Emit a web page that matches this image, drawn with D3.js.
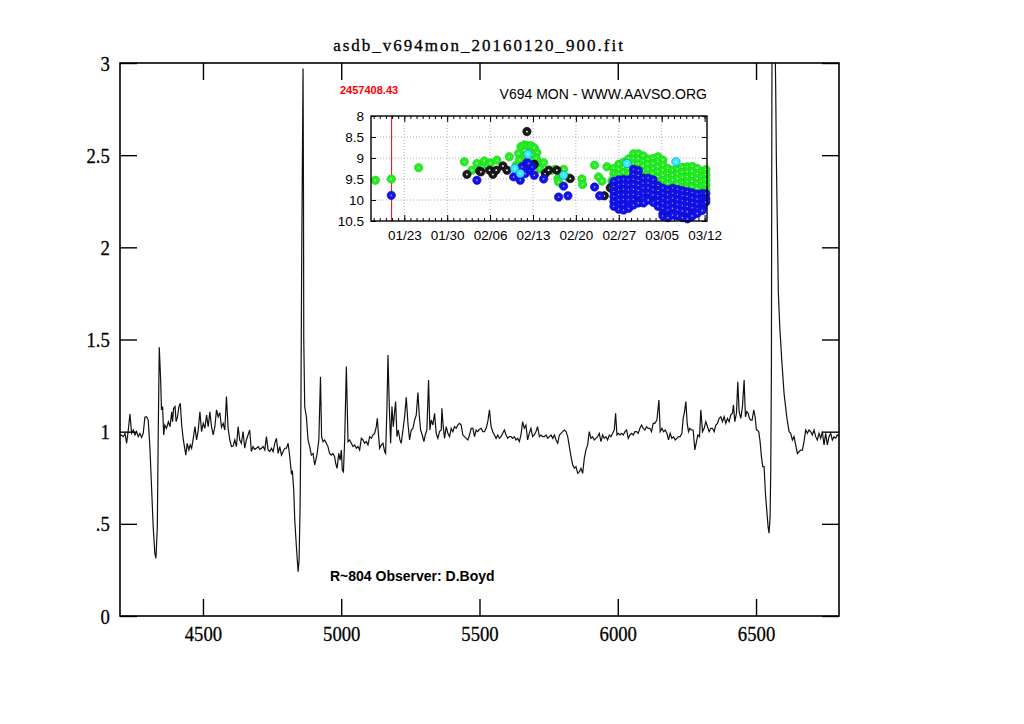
<!DOCTYPE html>
<html>
<head>
<meta charset="utf-8">
<script src="https://cdn.jsdelivr.net/npm/d3@7/dist/d3.min.js"></script>
<style>
body { margin: 0; background: #fff; }
</style>
</head>
<body>
<div class="chart"></div>
<script>
// spectrum: [wavelength (A), relative flux]
const spectrum = [
[4200,0.98],[4203.6,0.982],[4212,0.973],[4218,0.991],[4224,0.937],[4230,1.009],[4236,1.096],[4242,0.991],[4248,1.009],[4254,0.982],
[4260,1.000],[4266,0.973],[4272,0.991],[4278,0.969],[4284,0.991],[4290,1.078],[4296,1.081],[4302,1.063],[4308,0.919],[4314,0.702],
[4320,0.485],[4326,0.340],[4330,0.313],[4335,0.485],[4338,0.955],[4342,1.458],[4347,1.280],[4350,1.118],[4354,1.136],[4358,0.982],
[4362,1.036],[4368,1.018],[4375,1.054],[4381,1.027],[4387,1.108],[4390,1.054],[4394,1.127],[4399,1.136],[4403,1.054],[4408,1.081],
[4413,1.136],[4418,1.154],[4423,1.036],[4429,0.955],[4435,0.901],[4438,0.873],[4443,0.937],[4449,0.901],[4454,0.928],[4459,0.910],
[4465,0.964],[4471,1.027],[4477,0.955],[4483,1.009],[4489,1.108],[4495,1.000],[4501,1.045],[4507,1.018],[4513,1.090],[4519,1.027],
[4525,1.108],[4531,1.027],[4537,0.982],[4543,1.027],[4549,1.118],[4555,1.081],[4561,1.103],[4567,1.024],[4573,1.045],[4579,1.009],
[4585,1.190],[4591,1.018],[4597,0.955],[4603,0.919],[4609,0.922],[4615,0.955],[4621,0.919],[4627,1.027],[4633,0.955],[4639,0.937],
[4645,1.000],[4651,0.910],[4657,0.955],[4663,0.982],[4669,1.009],[4675,0.892],[4681,0.919],[4687,0.904],[4693.5,0.910],[4699.5,0.919],
[4705.5,0.904],[4711.6,0.910],[4717.6,0.919],[4723.6,0.901],[4729.6,0.973],[4735.6,0.901],[4741.7,0.892],[4747.7,0.910],[4753.7,0.892],[4759.7,0.937],
[4765.7,0.964],[4771.8,0.882],[4777.8,0.919],[4783.8,0.873],[4789.8,0.892],[4795.8,0.910],[4801.9,0.910],[4807.9,0.937],[4813.9,0.864],[4819.9,0.774],
[4823.5,0.783],[4828.3,0.684],[4831.9,0.521],[4837.9,0.376],[4844,0.240],[4847.6,0.304],[4851.2,0.593],[4853.6,0.955],[4857,1.93],[4861.9,2.97],
[4863.5,2.3],[4864.5,1.5],[4868,1.135],[4874,1.081],[4880,0.955],[4886,0.919],[4892,0.873],[4898,0.882],[4904,0.819],[4908,0.846],
[4913,0.882],[4919,0.955],[4925,1.298],[4929,0.973],[4934,0.946],[4940,0.955],[4946,0.937],[4952,0.919],[4958,0.882],[4964,0.873],
[4970,0.882],[4976,0.864],[4980,0.828],[4985,0.801],[4991,0.882],[4996,0.846],[5000.5,0.901],[5004,0.792],[5008,0.783],[5012.5,0.955],
[5018.5,1.353],[5024.5,0.946],[5030.5,0.955],[5036.6,0.937],[5042.6,0.919],[5048.6,0.928],[5054.6,0.910],[5060.6,0.919],[5066.6,0.901],[5072.7,0.964],
[5078.7,0.955],[5084.7,0.937],[5090.7,0.946],[5096.7,0.928],[5102.8,0.973],[5108.8,0.964],[5114.8,0.982],[5120.8,0.991],[5126.8,1.027],[5130.5,1.072],
[5135.3,0.973],[5138.9,0.910],[5144.9,0.928],[5150.9,0.937],[5157,0.892],[5160.5,0.882],[5165.4,1.136],[5169,1.416],[5173.8,1.136],[5178.6,0.937],
[5183.4,1.136],[5188.2,1.027],[5193,1.108],[5196.7,1.163],[5201.5,0.973],[5206.3,1.009],[5212.3,0.955],[5217.1,0.937],[5223.1,1.009],[5229.2,1.081],
[5235.2,1.186],[5241.2,1.045],[5247.2,0.955],[5253.2,1.009],[5259.2,1.018],[5265.3,1.063],[5271.3,1.090],[5277.3,1.212],[5282.1,1.090],[5287,1.009],
[5293,0.982],[5299,0.946],[5303.8,0.982],[5309.8,1.009],[5315.8,1.280],[5320.6,1.009],[5325.5,1.063],[5331.5,1.036],[5337.5,1.099],[5343.5,0.991],
[5349.5,0.964],[5355.5,1.000],[5361.6,1.009],[5364,1.127],[5368.8,1.027],[5373.6,0.964],[5379.6,1.027],[5385.6,0.991],[5391.7,0.973],[5397.7,1.018],
[5403.7,1.000],[5409.7,1.027],[5415.7,1.018],[5421.7,1.036],[5427.8,1.045],[5433.8,1.036],[5439.8,0.982],[5445.8,0.973],[5451.8,0.964],[5457.9,0.955],
[5463.9,0.982],[5469.9,1.018],[5475.9,1.018],[5481.9,0.973],[5488,1.009],[5494,1.000],[5500,1.013],[5506,1.018],[5512,1.000],[5518,1.000],
[5524,1.018],[5530,1.054],[5536,1.118],[5542,1.027],[5548,1.000],[5554,0.982],[5560,0.964],[5566,0.982],[5572,0.964],[5578,0.973],
[5584,0.991],[5590,1.009],[5596,0.982],[5602,0.964],[5608,0.973],[5614,0.973],[5620,0.964],[5626,0.973],[5632,0.955],[5638,0.964],
[5644,0.946],[5650,0.982],[5656,1.054],[5662,1.018],[5668,1.036],[5674,0.955],[5680,0.991],[5686,1.018],[5692,0.973],[5698,0.982],
[5704,1.000],[5710,1.027],[5716.6,0.973],[5722.7,0.982],[5728.7,0.973],[5734.7,0.973],[5740.7,0.982],[5746.7,0.964],[5752.8,0.973],[5758.8,0.982],
[5764.8,0.964],[5770.8,0.982],[5776.8,0.955],[5782.9,0.937],[5788.9,0.982],[5794.9,0.991],[5800.9,1.000],[5806.9,1.009],[5813,1.000],[5819,0.973],
[5825,0.919],[5831,0.864],[5837,0.819],[5843,0.801],[5849,0.810],[5855,0.774],[5861,0.783],[5867,0.801],[5873,0.774],[5879,0.855],
[5885,0.901],[5891,0.928],[5897,1.000],[5903,0.964],[5909,0.973],[5915,0.955],[5921,0.964],[5927,0.973],[5933,0.991],[5939.3,0.946],
[5945.3,0.982],[5951.3,0.964],[5957.3,0.973],[5963.3,0.955],[5969.4,0.982],[5975.4,0.973],[5981.4,0.991],[5987.4,1.009],[5992.2,1.100],[5997.1,0.982],
[6001.9,0.991],[6007.9,0.982],[6013.9,0.991],[6019.9,0.982],[6026,1.000],[6032,1.009],[6038,0.964],[6044,0.982],[6050,0.991],[6056,0.982],
[6062,1.000],[6068,1.000],[6074,0.991],[6080,1.018],[6086,1.036],[6092,1.018],[6098,1.009],[6104,1.027],[6110,1.018],[6116,1.018],
[6122,1.000],[6128,1.045],[6134,1.045],[6141.5,1.063],[6148.7,1.172],[6153.5,1.000],[6159.6,1.018],[6165.6,1.000],[6171.6,1.009],[6177.6,0.991],
[6183.6,0.955],[6189.6,0.991],[6195.7,0.964],[6201.7,0.973],[6207.7,0.955],[6213.7,0.964],[6219.7,0.973],[6225.8,0.973],[6231.8,0.991],[6236.6,1.072],
[6241.4,1.109],[6246.2,1.163],[6251,1.045],[6255.8,1.000],[6260.7,1.018],[6266.7,1.009],[6272.7,1.009],[6278.7,0.901],[6284.7,0.946],[6289.5,0.982],
[6295.6,0.973],[6300.4,1.118],[6306.4,1.000],[6312.4,1.018],[6318.4,1.054],[6324.5,1.027],[6330.5,1.000],[6336.5,1.018],[6342.5,1.018],[6348.5,1.000],
[6354.6,1.036],[6360.6,1.045],[6366.6,1.072],[6372.6,1.081],[6378.6,1.054],[6384.6,1.081],[6390.7,1.045],[6396.7,1.072],[6402.7,1.054],[6408.7,1.091],
[6414.7,1.100],[6418.3,1.145],[6423.2,1.054],[6429.2,1.100],[6434,1.271],[6438.8,1.109],[6444.8,1.072],[6450.9,1.136],[6456.9,1.280],[6461.7,1.081],
[6466.5,1.109],[6471.3,1.100],[6476.1,1.072],[6481,1.063],[6485.8,1.063],[6491.8,1.118],[6496.6,1.081],[6501.4,1.009],[6505,1.009],[6509.8,1.000],
[6514.7,0.946],[6519.5,0.864],[6524.3,0.810],[6529.1,0.810],[6533.9,0.666],[6538.7,0.575],[6543.5,0.485],[6547.1,0.449],[6550.8,0.539],[6553.2,0.792],
[6555.6,1.335],[6557,2.6],[6558.5,3.6],[6566,3.8],[6569,3.1],[6571.3,2.836],[6573.5,2.474],[6577.1,2.112],[6580.7,1.752],[6585.8,1.569],
[6593,1.389],[6601.3,1.208],[6611,1.081],[6619.4,1.000],[6625.4,0.991],[6631.4,0.955],[6637.4,0.973],[6643.4,0.928],[6649.5,0.882],[6655.5,0.891],
[6661.5,0.900],[6667.5,0.900],[6673.5,0.946],[6679.6,1.009],[6685.6,0.991],[6691.6,1.009],[6697.6,1.000],[6703.6,0.982],[6709.7,1.009],[6715.7,0.973],
[6721.7,0.955],[6727.7,0.991],[6733.7,0.964],[6739.7,1.000],[6745.8,0.928],[6751.8,0.991],[6757.8,0.928],[6763.8,0.973],[6769.8,0.991],[6775.9,0.955],
[6781.9,0.973],[6787.9,0.964],[6793.9,0.982],[6800,0.975]
];

const xTicks = [4500, 5000, 5500, 6000, 6500];
const yTicks = [0, 0.5, 1, 1.5, 2, 2.5, 3];
const yTickLabels = ['0', '.5', '1', '1.5', '2', '2.5', '3'];

// AAVSO light curve inset, x = day of 2016 (Jan 1 = 1), y = magnitude
const jdMarker = 2457408.43;
const jdDay0 = 2457387.5;
const insetTicks = [23, 30, 37, 44, 51, 58, 65, 72];
const insetTickLabels = ['01/23', '01/30', '02/06', '02/13', '02/20', '02/27', '03/05', '03/12'];
const magTicks = [8, 8.5, 9, 9.5, 10, 10.5];
const magTickLabels = ['8', '8.5', '9', '9.5', '10', '10.5'];

const greenPts = [
[18.27,9.53],[20.88,9.50],[25.34,9.23],[32.79,9.09],[34.04,9.29],[34.85,9.13],[35.67,9.21],[36.05,9.07],[37.03,9.12],[38.12,9.05],
[40.13,8.97],[41.27,9.17],[41.65,8.89],[42.03,8.73],[42.58,8.69],[43.12,8.71],[43.66,8.71],[44.21,8.76],[44.64,8.87],[41.81,9.05],
[42.74,8.93],[43.83,8.93],[44.53,9.01],[44.91,9.11],[45.08,9.25],[45.73,9.11],[47.09,9.29],[47.63,9.27],[48.07,9.49],[48.18,9.57],
[48.99,9.27],[49.81,9.47],[51.98,9.50],[52.09,9.63],[54.05,9.17],[54.70,9.45],[55.25,9.55],[56.06,9.21],[56.88,9.55],
[57.2,9.25],[57.2,9.37],[57.2,9.49],
[58.0,9.15],[58.0,9.27],[58.0,9.39],[58.0,9.50],
[58.8,9.10],[58.8,9.22],[58.8,9.34],[58.8,9.46],
[59.6,9.02],[59.6,9.14],[59.6,9.26],[59.6,9.38],[59.6,9.50],
[60.4,8.90],[60.4,9.02],[60.4,9.14],[60.4,9.26],
[61.2,8.90],[61.2,9.02],[61.2,9.14],[61.2,9.26],
[62.0,8.95],[62.0,9.07],[62.0,9.19],[62.0,9.31],[62.0,9.43],
[62.8,9.03],[62.8,9.15],[62.8,9.27],[62.8,9.39],[62.8,9.50],
[63.6,9.01],[63.6,9.13],[63.6,9.25],[63.6,9.37],[63.6,9.49],
[64.4,8.97],[64.4,9.09],[64.4,9.21],[64.4,9.33],[64.4,9.45],[64.4,9.57],
[65.2,9.05],[65.2,9.17],[65.2,9.29],[65.2,9.41],[65.2,9.53],[65.2,9.65],[65.2,9.76],
[66.0,9.25],[66.0,9.37],[66.0,9.49],[66.0,9.61],[66.0,9.73],[66.0,9.85],
[66.8,9.29],[66.8,9.41],[66.8,9.53],[66.8,9.65],[66.8,9.77],
[67.6,9.26],[67.6,9.38],[67.6,9.50],[67.6,9.62],[67.6,9.74],[67.6,9.84],
[68.4,9.22],[68.4,9.34],[68.4,9.46],[68.4,9.58],[68.4,9.70],[68.4,9.82],
[69.2,9.21],[69.2,9.33],[69.2,9.45],[69.2,9.57],[69.2,9.69],[69.2,9.82],
[70.0,9.20],[70.0,9.32],[70.0,9.44],[70.0,9.56],[70.0,9.68],[70.0,9.80],
[70.8,9.25],[70.8,9.37],[70.8,9.49],[70.8,9.61],[70.8,9.73],[70.8,9.85],
[71.6,9.32],[71.6,9.44],[71.6,9.56],[71.6,9.68],[71.6,9.80],
[72.2,9.28],[72.2,9.40],[72.2,9.52],[72.2,9.64],[72.2,9.76]
];

const blackPts = [
[33.22,9.39],[35.29,9.31],[35.51,9.33],[36.92,9.29],[37.46,9.39],[38.0,9.29],[39.1,9.19],[39.75,9.29],[43.01,8.37],[44.21,9.15],
[46.0,9.37],[46.55,9.29],[47.9,9.29],[50.08,9.49],[55.63,9.90],[56.61,9.71],[70.74,10.21]
];

const bluePts = [
[20.88,9.89],[34.85,9.53],[40.84,9.45],[41.92,9.53],[42.2,9.21],[43.01,9.11],[43.45,9.29],[44.21,9.41],[43.83,9.21],[42.74,9.37],
[43.28,9.13],[45.73,9.50],[48.18,9.93],[48.99,9.67],[49.70,9.90],[54.05,9.69],[54.87,9.90],
[57.2,9.56],[57.2,9.68],[57.2,9.80],[57.2,9.92],[57.2,10.04],[57.2,10.15],
[58.0,9.52],[58.0,9.64],[58.0,9.76],[58.0,9.88],[58.0,10.00],[58.0,10.12],[58.0,10.22],
[58.8,9.51],[58.8,9.63],[58.8,9.75],[58.8,9.87],[58.8,9.99],[58.8,10.11],[58.8,10.24],
[59.6,9.52],[59.6,9.64],[59.6,9.76],[59.6,9.88],[59.6,10.00],[59.6,10.12],[59.6,10.20],
[60.4,9.27],[60.4,9.39],[60.4,9.51],[60.4,9.63],[60.4,9.75],[60.4,9.87],[60.4,9.99],[60.4,10.12],
[61.2,9.30],[61.2,9.42],[61.2,9.54],[61.2,9.66],[61.2,9.78],[61.2,9.90],[61.2,10.02],[61.2,10.07],
[62.0,9.48],[62.0,9.60],[62.0,9.72],[62.0,9.84],[62.0,9.96],[62.05,10.07],
[62.8,9.48],[62.8,9.60],[62.8,9.72],[62.8,9.84],[62.8,9.96],[62.8,10.00],
[63.6,9.52],[63.6,9.64],[63.6,9.76],[63.6,9.88],[63.67,10.06],
[64.4,9.66],[64.4,9.78],[64.4,9.90],[64.4,10.02],[64.4,10.15],
[65.2,9.72],[65.2,9.84],[65.2,9.96],[65.2,10.08],[65.2,10.20],[65.2,10.32],[65.2,10.38],
[66.0,9.76],[66.0,9.88],[66.0,10.00],[66.0,10.12],[66.0,10.24],[66.0,10.36],[66.0,10.42],
[66.8,9.72],[66.8,9.84],[66.8,9.96],[66.8,10.08],[66.8,10.20],[66.8,10.36],
[67.6,9.75],[67.6,9.87],[67.6,9.99],[67.6,10.11],[67.6,10.23],[67.6,10.38],
[68.4,9.78],[68.4,9.90],[68.4,10.02],[68.4,10.14],[68.4,10.26],[68.4,10.42],
[69.2,9.80],[69.2,9.92],[69.2,10.04],[69.2,10.16],[69.2,10.28],[69.2,10.45],
[70.0,9.83],[70.0,9.95],[70.0,10.07],[70.0,10.19],[70.0,10.31],[70.0,10.38],
[70.8,9.86],[70.8,9.98],[70.8,10.10],[70.8,10.22],[70.8,10.32],
[71.6,9.85],[71.6,9.97],[71.6,10.09],[71.6,10.20],[71.6,10.25],
[72.2,9.85],[72.2,9.97],[72.2,10.05]
];

const cyanPts = [[41.0,9.25],[41.92,9.37],[43.17,8.91],[49.0,9.41],[59.32,9.13],[67.32,9.09]];

const margin = ({top: 63, right: 185, bottom: 108, left: 120});
const width = 1024 - margin.left - margin.right;
const height = 724 - margin.top - margin.bottom;

const root = d3.select('.chart').append('svg')
	.attr('width', 1024)
	.attr('height', 724);

const svg = root.append('g')
	.attr('transform', 'translate(' + margin.left + ',' + margin.top + ')');

const xScale = d3.scaleLinear()
	.domain([4200, 6800])
	.range([0, width]);

const yScale = d3.scaleLinear()
	.domain([0, 3])
	.range([height, 0]);

const serif = '"Liberation Serif", "Times New Roman", serif';
const sans = '"Liberation Sans", Arial, sans-serif';

svg.append('clipPath').attr('id', 'plotclip')
	.append('rect').attr('width', width).attr('height', height);

const line = d3.line()
	.x(d => xScale(d[0]))
	.y(d => yScale(d[1]));

svg.append('path')
	.datum(spectrum)
	.attr('clip-path', 'url(#plotclip)')
	.attr('fill', 'none')
	.attr('stroke', '#111')
	.attr('stroke-width', 1.2)
	.attr('d', line);

// gnuplot style axes: ticks pointing in, on all four sides
const xAxis = d3.axisBottom(xScale).tickValues(xTicks).tickSize(-17).tickPadding(9).tickFormat(d3.format('d'));
const xAxisTop = d3.axisTop(xScale).tickValues(xTicks).tickSize(-17).tickFormat('');
const yAxis = d3.axisLeft(yScale).tickValues(yTicks).tickSize(-17).tickPadding(12).tickFormat((d, i) => yTickLabels[i]);
const yAxisRight = d3.axisRight(yScale).tickValues(yTicks).tickSize(-17).tickFormat('');

svg.append('g').attr('class', 'axis x-axis').attr('transform', `translate(0, ${height})`).call(xAxis);
svg.append('g').attr('class', 'axis').call(xAxisTop);
svg.append('g').attr('class', 'axis y-axis').call(yAxis);
svg.append('g').attr('class', 'axis').attr('transform', `translate(${width}, 0)`).call(yAxisRight);

svg.selectAll('.axis .domain').remove();
svg.selectAll('.axis line').attr('stroke', '#000').attr('stroke-width', 1.4);
svg.selectAll('.axis text')
	.attr('font-family', serif)
	.attr('font-size', 22)
	.attr('fill', '#000')
	.attr('stroke', '#000')
	.attr('stroke-width', 0.3)
	.attr('transform', 'scale(0.85,1)');

svg.append('rect')
	.attr('width', width).attr('height', height)
	.attr('fill', 'none').attr('stroke', '#000').attr('stroke-width', 1.6);

root.append('text')
	.attr('x', 479).attr('y', 51)
	.attr('text-anchor', 'middle')
	.attr('font-family', serif)
	.attr('font-size', 17)
	.attr('letter-spacing', 2)
	.attr('stroke', '#000')
	.attr('stroke-width', 0.3)
	.text('asdb_v694mon_20160120_900.fit');

root.append('text')
	.attr('x', 330).attr('y', 581)
	.attr('font-family', sans)
	.attr('font-weight', 'bold')
	.attr('font-size', 14)
	.text('R~804 Observer: D.Boyd');

// ---- inset light curve ----
const inset = root.append('g').attr('class', 'inset');
const ix = d3.scaleLinear().domain([17.57, 72.39]).range([371, 707]);
const iy = d3.scaleLinear().domain([8, 10.5]).range([116, 221]);

inset.append('text')
	.attr('x', 340).attr('y', 94)
	.attr('font-family', sans).attr('font-weight', 'bold').attr('font-size', 11)
	.attr('fill', '#f00')
	.text(jdMarker.toFixed(2));

inset.append('text')
	.attr('x', 707).attr('y', 99)
	.attr('text-anchor', 'end')
	.attr('font-family', sans).attr('font-size', 14)
	.text('V694 MON - WWW.AAVSO.ORG');

// dotted grid
inset.selectAll('.vgrid').data(insetTicks.slice(0, -1)).enter().append('line')
	.attr('x1', d => ix(d)).attr('x2', d => ix(d))
	.attr('y1', iy(8)).attr('y2', iy(10.5))
	.attr('stroke', '#999').attr('stroke-width', 0.8).attr('stroke-dasharray', '1,2');
inset.selectAll('.hgrid').data(magTicks.slice(1, -1)).enter().append('line')
	.attr('x1', ix.range()[0]).attr('x2', ix.range()[1])
	.attr('y1', d => iy(d)).attr('y2', d => iy(d))
	.attr('stroke', '#999').attr('stroke-width', 0.8).attr('stroke-dasharray', '1,2');

const minorDays = d3.range(18, 73);
const ixAxis = d3.axisBottom(ix).tickValues(insetTicks).tickSize(-6).tickPadding(9).tickFormat((d, i) => insetTickLabels[i]);
const ixMinor = d3.axisBottom(ix).tickValues(minorDays).tickSize(-3).tickFormat('');
const ixTop = d3.axisTop(ix).tickValues(insetTicks).tickSize(-6).tickFormat('');
const ixTopMinor = d3.axisTop(ix).tickValues(minorDays).tickSize(-3).tickFormat('');
const iyAxis = d3.axisLeft(iy).tickValues(magTicks).tickSize(-5).tickPadding(7).tickFormat((d, i) => magTickLabels[i]);
const iyRight = d3.axisRight(iy).tickValues(magTicks).tickSize(-5).tickFormat('');

inset.append('g').attr('class', 'iaxis').attr('transform', `translate(0,${iy(10.5)})`).call(ixAxis);
inset.append('g').attr('class', 'iaxis').attr('transform', `translate(0,${iy(10.5)})`).call(ixMinor);
inset.append('g').attr('class', 'iaxis').attr('transform', `translate(0,${iy(8)})`).call(ixTop);
inset.append('g').attr('class', 'iaxis').attr('transform', `translate(0,${iy(8)})`).call(ixTopMinor);
inset.append('g').attr('class', 'iaxis').attr('transform', `translate(${ix.range()[0]},0)`).call(iyAxis);
inset.append('g').attr('class', 'iaxis').attr('transform', `translate(${ix.range()[1]},0)`).call(iyRight);

inset.selectAll('.iaxis .domain').remove();
inset.selectAll('.iaxis line').attr('stroke', '#000').attr('stroke-width', 1);
inset.selectAll('.iaxis text').attr('font-family', sans).attr('font-size', 13.5).attr('fill', '#000');

inset.append('line')
	.attr('x1', ix(jdMarker - jdDay0)).attr('x2', ix(jdMarker - jdDay0))
	.attr('y1', iy(8)).attr('y2', iy(10.5))
	.attr('stroke', '#f00').attr('stroke-width', 1);

function plotPoints(data, fill, stroke, dot) {
	const g = inset.selectAll(null).data(data).enter().append('g')
		.attr('transform', d => `translate(${ix(d[0])},${iy(d[1])})`);
	g.append('circle').attr('r', 4.2).attr('fill', fill).attr('stroke', stroke).attr('stroke-width', 0.6);
	g.append('circle').attr('r', 0.9).attr('fill', dot);
}

plotPoints(greenPts, '#22ee22', '#1ccc1c', '#c8ffc8');
plotPoints(blackPts, '#1a1a1a', '#000', '#fff');
plotPoints(bluePts, '#1212ea', '#0a0ac0', '#9090ff');
plotPoints(cyanPts, '#30eeff', '#1a70d0', '#e0ffff');

inset.append('rect')
	.attr('x', ix.range()[0]).attr('y', iy(8))
	.attr('width', ix.range()[1] - ix.range()[0]).attr('height', iy(10.5) - iy(8))
	.attr('fill', 'none').attr('stroke', '#000').attr('stroke-width', 1.4);
</script>
</body>
</html>
